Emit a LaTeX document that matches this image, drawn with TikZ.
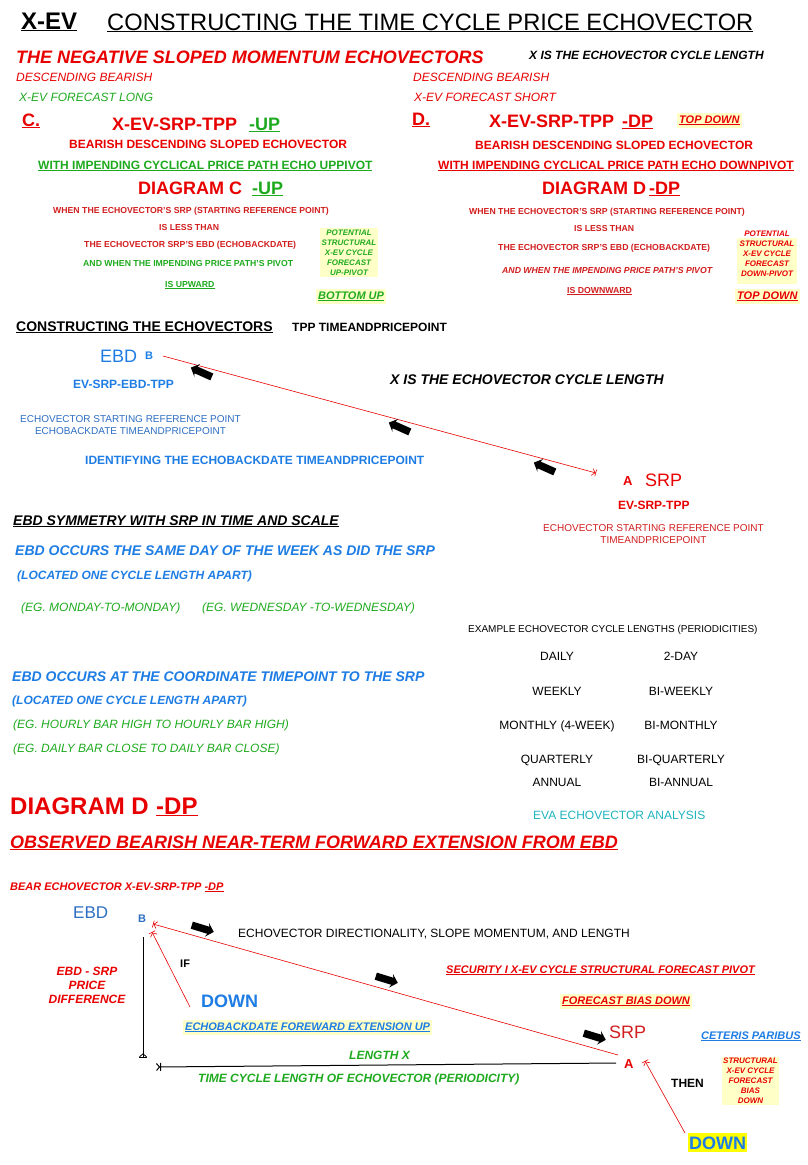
\documentclass[tikz,border=0pt]{standalone}
\usepackage{fontspec}
\setmainfont{Liberation Sans}
\usetikzlibrary{arrows.meta,shapes.arrows}

\definecolor{evred}{RGB}{232,0,0}
\definecolor{evdred}{RGB}{210,30,30}
\definecolor{evblue}{RGB}{30,125,228}
\definecolor{evblue2}{RGB}{45,110,195}
\definecolor{evgreen}{RGB}{30,170,30}
\definecolor{evteal}{RGB}{30,180,190}
\definecolor{evyel}{RGB}{255,255,200}
\definecolor{evbright}{RGB}{255,255,0}

\newcommand\fsz[1]{\fontsize{#1}{#1}\selectfont}

\tikzset{
  lbl/.style={anchor=base west, inner sep=0pt},
  lblc/.style={anchor=base, inner sep=0pt},
  hd/.style={font=\fsz{#1}\bfseries},
  hdi/.style={font=\fsz{#1}\bfseries\itshape},
  rg/.style={font=\fsz{#1}},
  rgi/.style={font=\fsz{#1}\itshape},
  hl/.style={fill=evyel, inner xsep=2pt, inner ysep=2.5pt},
  boxtxt/.style={font=\fontsize{8}{10}\selectfont\bfseries\itshape, align=center, inner sep=0pt},
  blkarrow/.style={single arrow, fill=black, inner sep=3.5pt, minimum height=23pt, single arrow head extend=3.5pt, single arrow head indent=1.5pt},
  evline/.style={draw=evred, line width=0.6pt},
  tkend/.style={-{Straight Barb[length=3pt,width=7pt]Bar[width=7pt]}},
  tkstart/.style={{Bar[width=7pt]Straight Barb[length=3pt,width=7pt]}-},
}

\begin{document}
\begin{tikzpicture}[x=1pt,y=-1pt]
\fill[white] (0,0) rectangle (808,1165);
\useasboundingbox (0,0) rectangle (808,1165);

% heading
\node[lbl, hd=24] (xev) at (21,29) {\underline{X-EV}};
\node[lbl, rg=23.7] (title) at (107,30) {\underline{CONSTRUCTING THE TIME CYCLE PRICE ECHOVECTOR}};
\node[lbl, hdi=18, text=evred] (negmom) at (16,63) {THE NEGATIVE SLOPED MOMENTUM ECHOVECTORS};
\node[lbl, hdi=12] (xlen) at (529,59) {X IS THE ECHOVECTOR CYCLE LENGTH};
\node[lbl, rgi=12, text=evred] (descl) at (16,81) {DESCENDING BEARISH};
\node[lbl, rgi=12, text=evgreen] (fcl) at (19,101) {X-EV FORECAST LONG};
\node[lbl, rgi=12, text=evred] (descr) at (413,81) {DESCENDING BEARISH};
\node[lbl, rgi=12, text=evred] (fcs) at (414,101) {X-EV FORECAST SHORT};

% diagram C
\node[lbl, hd=18, text=evred] (cdot) at (22,126) {\underline{C.}};
\node[lbl, hd=18, text=evred] (evc) at (112,130) {X-EV-SRP-TPP};
\node[lbl, hd=18, text=evgreen] (upc) at (249,130) {\underline{-UP}};
\node[lbl, hd=12, text=evred] (bdsc) at (69,148) {BEARISH DESCENDING SLOPED ECHOVECTOR};
\node[lbl, hd=12, text=evgreen] (impc) at (38,169) {\underline{WITH IMPENDING CYCLICAL PRICE PATH ECHO UPPIVOT}};
\node[lbl, hd=18, text=evred] (diagc) at (138,194) {DIAGRAM C};
\node[lbl, hd=18, text=evgreen] (diagcup) at (252,194) {\underline{-UP}};
\node[lbl, hd=8.7, text=evdred] (whenc) at (53,213) {WHEN THE ECHOVECTOR'S SRP (STARTING REFERENCE POINT)};
\node[lbl, hd=8.7, text=evdred] (lessc) at (159,230) {IS LESS THAN};
\node[lbl, hd=8.7, text=evdred] (ebdc) at (84,247) {THE ECHOVECTOR SRP'S EBD (ECHOBACKDATE)};
\node[lbl, hd=8.7, text=evgreen] (pivc) at (83,266) {AND WHEN THE IMPENDING PRICE PATH'S PIVOT};
\node[lbl, hd=8.7, text=evgreen] (upwc) at (165,287) {\underline{IS UPWARD}};
\node[boxtxt, fill=evyel, minimum width=58pt, minimum height=49pt, text=evgreen] (potc) at (349,252.5)
  {POTENTIAL\\STRUCTURAL\\X-EV CYCLE\\FORECAST\\UP-PIVOT};
\node[lbl, hdi=11, text=evgreen, hl] (botup) at (316,299) {\underline{BOTTOM UP}};

% diagram D
\node[lbl, hd=18, text=evred] (ddot) at (412,125) {\underline{D.}};
\node[lbl, hd=18, text=evred] (evd) at (489,127) {X-EV-SRP-TPP};
\node[lbl, hd=18, text=evred] (dpd) at (622,127) {\underline{-DP}};
\node[lbl, hdi=11, text=evred, hl] (topd1) at (677,123) {\underline{TOP DOWN}};
\node[lbl, hd=12, text=evred] (bdsd) at (475,149) {BEARISH DESCENDING SLOPED ECHOVECTOR};
\node[lbl, hd=12, text=evred] (impd) at (438,169) {\underline{WITH IMPENDING CYCLICAL PRICE PATH ECHO DOWNPIVOT}};
\node[lbl, hd=18, text=evred] (diagd) at (542,194) {DIAGRAM D};
\node[lbl, hd=18, text=evred] (diagddp) at (649,194) {\underline{-DP}};
\node[lbl, hd=8.7, text=evdred] (whend) at (469,214) {WHEN THE ECHOVECTOR'S SRP (STARTING REFERENCE POINT)};
\node[lbl, hd=8.7, text=evdred] (lessd) at (574,231) {IS LESS THAN};
\node[lbl, hd=8.7, text=evdred] (ebdd) at (498,250) {THE ECHOVECTOR SRP'S EBD (ECHOBACKDATE)};
\node[lbl, hdi=8.7, text=evdred] (pivd) at (502,273) {AND WHEN THE IMPENDING PRICE PATH'S PIVOT};
\node[lbl, hd=8.7, text=evdred] (dwnd) at (567,293) {\underline{IS DOWNWARD}};
\fill[evyel] (737,238) rectangle (797,284);
\node[boxtxt, text=evred] (potd) at (767,254) {POTENTIAL\\STRUCTURAL\\X-EV CYCLE\\FORECAST\\DOWN-PIVOT};
\node[lbl, hdi=11, text=evred, hl] (topd2) at (735,299) {\underline{TOP DOWN}};

% constructing the echovectors
\node[lbl, hd=14] (consev) at (16,331) {\underline{CONSTRUCTING THE ECHOVECTORS}};
\node[lbl, hd=12] (tpp) at (292,331) {TPP TIMEANDPRICEPOINT};
\node[lbl, rg=18, text=evblue] (ebd1) at (100,362) {EBD};
\node[lbl, hd=11, text=evblue] (b1) at (145,359) {B};
\coordinate (b1end) at (163,356);
\coordinate (a1end) at (596,473);
\draw[evline, tkend] (b1end) -- (a1end);
\node[blkarrow, rotate=156] (arw1) at (203,373) {};
\node[blkarrow, rotate=156] (arw2) at (401,428) {};
\node[blkarrow, rotate=156] (arw3) at (546,468) {};
\node[lbl, hdi=14] (xlen2) at (390,384) {X IS THE ECHOVECTOR CYCLE LENGTH};
\node[lbl, hd=12, text=evblue] (evebd) at (73,388) {EV-SRP-EBD-TPP};
\node[lblc, rg=10, text=evblue2] (esrp1) at (130.5,422) {ECHOVECTOR STARTING REFERENCE POINT};
\node[lblc, rg=10, text=evblue2] (ebtp) at (130.5,434) {ECHOBACKDATE TIMEANDPRICEPOINT};
\node[lbl, hd=12, text=evblue] (ident) at (85,464) {IDENTIFYING THE ECHOBACKDATE TIMEANDPRICEPOINT};
\node[lbl, hd=13, text=evred] (a1) at (623,485) {A};
\node[lbl, rg=18, text=evred] (srp1) at (645,486) {SRP};
\node[lbl, hd=12, text=evred] (evsrp) at (618,509) {EV-SRP-TPP};
\node[lblc, rg=10, text=evdred] (esrp2) at (653.5,531) {ECHOVECTOR STARTING REFERENCE POINT};
\node[lblc, rg=10, text=evdred] (tpp2) at (653.5,543) {TIMEANDPRICEPOINT};

% symmetry
\node[lbl, hdi=14] (sym) at (13,525) {\underline{EBD SYMMETRY WITH SRP IN TIME AND SCALE}};
\node[lbl, hdi=14, text=evblue] (occ1) at (15,555) {EBD OCCURS THE SAME DAY OF THE WEEK AS DID THE SRP};
\node[lbl, hdi=12, text=evblue] (loc1) at (17,579) {(LOCATED ONE CYCLE LENGTH APART)};
\node[lbl, rgi=12, text=evgreen] (egmon) at (21,611) {(EG. MONDAY-TO-MONDAY)};
\node[lbl, rgi=12, text=evgreen] (egwed) at (202,611) {(EG. WEDNESDAY -TO-WEDNESDAY)};
\node[lbl, hdi=14, text=evblue] (occ2) at (12,681) {EBD OCCURS AT THE COORDINATE TIMEPOINT TO THE SRP};
\node[lbl, hdi=12, text=evblue] (loc2) at (12,704) {(LOCATED ONE CYCLE LENGTH APART)};
\node[lbl, rgi=12, text=evgreen] (eghour) at (13,728) {(EG. HOURLY BAR HIGH TO HOURLY BAR HIGH)};
\node[lbl, rgi=12, text=evgreen] (egday) at (13,752) {(EG. DAILY BAR CLOSE TO DAILY BAR CLOSE)};

% cycle lengths
\node[lbl, rg=10] (exlen) at (468,632) {EXAMPLE ECHOVECTOR CYCLE LENGTHS (PERIODICITIES)};
\foreach \lft/\rgt/\yy in {DAILY/2-DAY/660, WEEKLY/BI-WEEKLY/695, MONTHLY (4-WEEK)/BI-MONTHLY/729,
    QUARTERLY/BI-QUARTERLY/763, ANNUAL/BI-ANNUAL/786} {
  \node[lblc, rg=12] (l\yy) at (557,\yy) {\lft};
  \node[lblc, rg=12] (r\yy) at (681,\yy) {\rgt};
}
\node[lbl, rg=12, text=evteal] (eva) at (533,819) {EVA ECHOVECTOR ANALYSIS};

% diagram D -DP
\node[lbl, hd=24, text=evred] (diagd2) at (10,814) {DIAGRAM D};
\node[lbl, hd=24, text=evred] (diagd2dp) at (156,814) {\underline{-DP}};
\node[lbl, hdi=18, text=evred] (obs) at (10,848) {\underline{OBSERVED BEARISH NEAR-TERM FORWARD EXTENSION FROM EBD}};
\node[lbl, hdi=11, text=evred] (bearev) at (10,890) {BEAR ECHOVECTOR X-EV-SRP-TPP \underline{-DP}};
\node[lbl, rg=17, text=evblue2] (ebd2) at (73,918) {EBD};
\node[lbl, hd=11, text=evblue2] (b2) at (138,922) {B};
\coordinate (b2a) at (153,924);
\coordinate (a2) at (618,1055);
\draw[evline, tkstart] (b2a) -- (a2);
\coordinate (b2b) at (152,932);
\coordinate (dn1) at (190,1007);
\draw[evline, tkstart] (b2b) -- (dn1);
\coordinate (vtop) at (143,937);
\coordinate (vbot) at (143,1058);
\draw[line width=0.8pt, -{Straight Barb[reversed,length=3pt,width=7pt]Bar[width=8pt]}] (vtop) -- (vbot);
\coordinate (hlft) at (156,1067);
\coordinate (hrgt) at (616,1063);
\draw[line width=1pt, {Straight Barb[reversed,length=3pt,width=7pt]Bar[width=8pt]}-] (hlft) -- (hrgt);
\node[blkarrow, rotate=-17] (barw1) at (201,928) {};
\node[blkarrow, rotate=-17] (barw2) at (385,979) {};
\node[blkarrow, rotate=-17] (barw3) at (593,1036) {};
\node[lbl, rg=12] (dirlen) at (238,937) {ECHOVECTOR DIRECTIONALITY, SLOPE MOMENTUM, AND LENGTH};
\node[lbl, hd=11] (ifn) at (180,967) {IF};
\node[lblc, hdi=12, text=evred] (pd1) at (87,975) {EBD - SRP};
\node[lblc, hdi=12, text=evred] (pd2) at (87,989) {PRICE};
\node[lblc, hdi=12, text=evred] (pd3) at (87,1003) {DIFFERENCE};
\node[lbl, hd=18, text=evblue] (down1) at (201,1007) {DOWN};
\node[lbl, hdi=11, text=evblue, hl] (ebfwd) at (183,1030) {\underline{ECHOBACKDATE FOREWARD EXTENSION UP}};
\node[lbl, hdi=11, text=evred] (secpiv) at (446,973) {\underline{SECURITY I X-EV CYCLE STRUCTURAL FORECAST PIVOT}};
\node[lbl, hdi=11, text=evred, hl] (fbias) at (560,1004) {\underline{FORECAST BIAS DOWN}};
\node[lbl, rg=18, text=evdred] (srp2) at (609,1038) {SRP};
\node[lbl, hdi=11, text=evblue] (ceteris) at (701,1039) {\underline{CETERIS PARIBUS}};
\node[lbl, hdi=12, text=evgreen] (lenx) at (349,1059) {LENGTH X};
\node[lbl, hd=13, text=evred] (a2lbl) at (624,1068) {A};
\coordinate (a2b) at (645,1061);
\coordinate (dn2) at (685,1133);
\draw[evline, tkstart] (a2b) -- (dn2);
\node[lbl, hd=12] (thenn) at (671,1087) {THEN};
\node[boxtxt, fill=evyel, minimum width=57pt, minimum height=48pt, text=evred] (sbias) at (750.5,1081)
  {STRUCTURAL\\X-EV CYCLE\\FORECAST\\BIAS\\DOWN};
\node[lbl, hdi=12, text=evgreen] (tcl) at (198,1082) {TIME CYCLE LENGTH OF ECHOVECTOR (PERIODICITY)};
\node[lbl, hd=18, text=evblue, fill=evbright, inner xsep=1pt, inner ysep=3pt] (down2) at (688,1149) {DOWN};
\end{tikzpicture}
\end{document}
